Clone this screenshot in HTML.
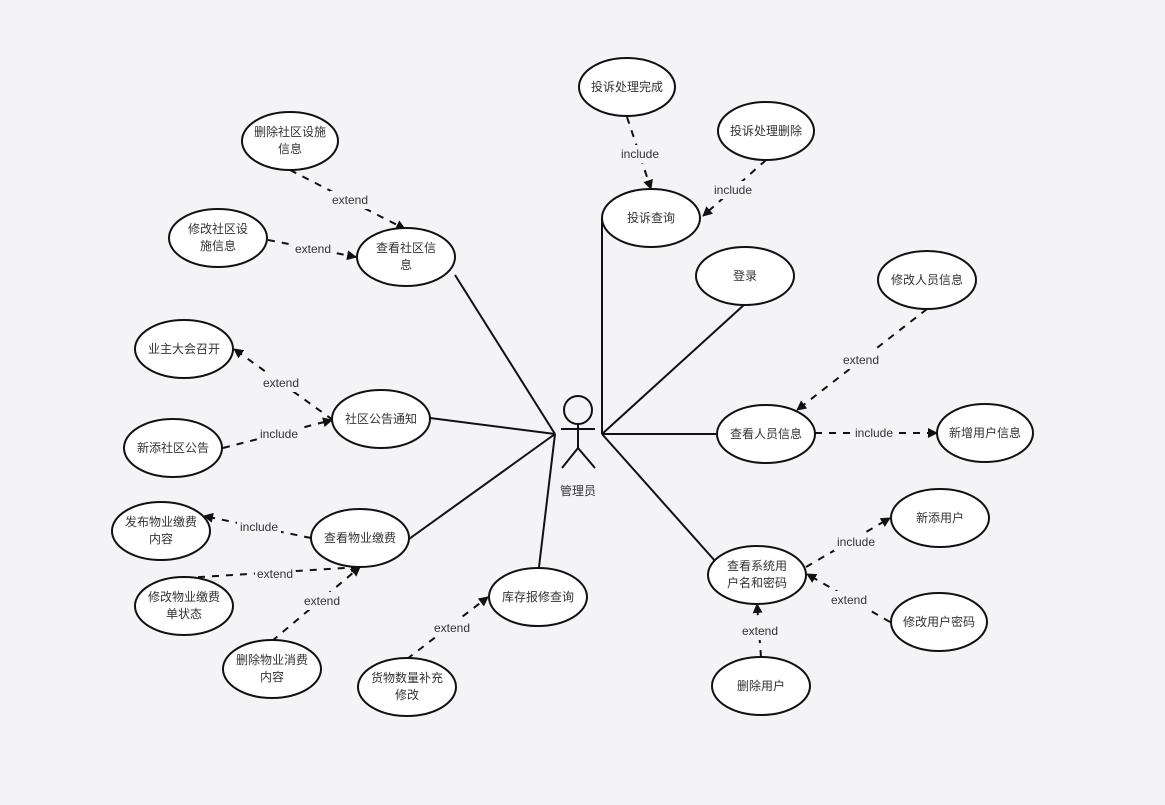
<!DOCTYPE html>
<html><head><meta charset="utf-8"><style>
html,body{margin:0;padding:0;background:#f4f4f6;}
svg{display:block;}
text{font-family:"Liberation Sans","Noto Sans CJK SC",sans-serif;font-size:12px;fill:#333;text-anchor:middle;}
.e{fill:#fff;stroke:#111;stroke-width:2;}
.s{stroke:#111;stroke-width:2;fill:none;}
.d{stroke:#111;stroke-width:2;fill:none;stroke-dasharray:7,7;marker-end:url(#a);}
.lb{fill:#f4f4f6;}
</style></head><body>
<svg width="1165" height="805" viewBox="0 0 1165 805">
<defs><marker id="a" viewBox="0 0 10 10" refX="9" refY="5" markerWidth="5" markerHeight="5" orient="auto"><path d="M0,0L10,5L0,10z" fill="#111"/></marker></defs>
<!-- solid lines -->
<g class="s">
<line x1="555" y1="434" x2="455" y2="275"/>
<line x1="555" y1="434" x2="430" y2="418"/>
<line x1="555" y1="434" x2="409" y2="539"/>
<line x1="555" y1="434" x2="539" y2="567"/>
<line x1="602" y1="434" x2="602" y2="218"/>
<line x1="602" y1="434" x2="745" y2="304"/>
<line x1="602" y1="434" x2="716" y2="434"/>
<line x1="602" y1="434" x2="716" y2="562"/>
</g>
<!-- dashed -->
<g>
<line class="d" x1="627" y1="117" x2="651" y2="189"/>
<line class="d" x1="766" y1="160" x2="703" y2="216"/>
<line class="d" x1="290" y1="170" x2="405" y2="229"/>
<line class="d" x1="268" y1="240" x2="356" y2="257"/>
<line class="d" x1="333" y1="420" x2="234" y2="349"/>
<line class="d" x1="223" y1="448" x2="332" y2="420"/>
<line class="d" x1="311" y1="538" x2="204" y2="516"/>
<line class="d" x1="184" y1="578" x2="360" y2="567"/>
<line class="d" x1="272" y1="641" x2="360" y2="567"/>
<line class="d" x1="407" y1="659" x2="488" y2="597"/>
<line class="d" x1="927" y1="309" x2="797" y2="410"/>
<line class="d" x1="815" y1="433" x2="937" y2="433"/>
<line class="d" x1="806" y1="567" x2="890" y2="518"/>
<line class="d" x1="890" y1="622" x2="807" y2="574"/>
<line class="d" x1="761" y1="657" x2="757" y2="604"/>
</g>
<!-- labels -->
<g>
<rect class="lb" x="618" y="145" width="44" height="18"/><text x="640" y="158">include</text>
<rect class="lb" x="711" y="181" width="44" height="18"/><text x="733" y="194">include</text>
<rect class="lb" x="330" y="191" width="40" height="18"/><text x="350" y="204">extend</text>
<rect class="lb" x="293" y="240" width="40" height="18"/><text x="313" y="253">extend</text>
<rect class="lb" x="261" y="374" width="40" height="18"/><text x="281" y="387">extend</text>
<rect class="lb" x="257" y="425" width="44" height="18"/><text x="279" y="438">include</text>
<rect class="lb" x="237" y="518" width="44" height="18"/><text x="259" y="531">include</text>
<rect class="lb" x="255" y="565" width="40" height="18"/><text x="275" y="578">extend</text>
<rect class="lb" x="302" y="592" width="40" height="18"/><text x="322" y="605">extend</text>
<rect class="lb" x="432" y="619" width="40" height="18"/><text x="452" y="632">extend</text>
<rect class="lb" x="841" y="351" width="40" height="18"/><text x="861" y="364">extend</text>
<rect class="lb" x="852" y="424" width="44" height="18"/><text x="874" y="437">include</text>
<rect class="lb" x="834" y="533" width="44" height="18"/><text x="856" y="546">include</text>
<rect class="lb" x="829" y="591" width="40" height="18"/><text x="849" y="604">extend</text>
<rect class="lb" x="740" y="622" width="40" height="18"/><text x="760" y="635">extend</text>
</g>
<!-- ellipses -->
<g>
<ellipse class="e" cx="627" cy="87" rx="48" ry="29"/><text x="627" y="91">投诉处理完成</text>
<ellipse class="e" cx="766" cy="131" rx="48" ry="29"/><text x="766" y="135">投诉处理删除</text>
<ellipse class="e" cx="651" cy="218" rx="49" ry="29"/><text x="651" y="222">投诉查询</text>
<ellipse class="e" cx="290" cy="141" rx="48" ry="29"/><text x="290" y="136">删除社区设施</text><text x="290" y="153">信息</text>
<ellipse class="e" cx="218" cy="238" rx="49" ry="29"/><text x="218" y="233">修改社区设</text><text x="218" y="250">施信息</text>
<ellipse class="e" cx="406" cy="257" rx="49" ry="29"/><text x="406" y="252">查看社区信</text><text x="406" y="269">息</text>
<ellipse class="e" cx="745" cy="276" rx="49" ry="29"/><text x="745" y="280">登录</text>
<ellipse class="e" cx="927" cy="280" rx="49" ry="29"/><text x="927" y="284">修改人员信息</text>
<ellipse class="e" cx="184" cy="349" rx="49" ry="29"/><text x="184" y="353">业主大会召开</text>
<ellipse class="e" cx="381" cy="419" rx="49" ry="29"/><text x="381" y="423">社区公告通知</text>
<ellipse class="e" cx="766" cy="434" rx="49" ry="29"/><text x="766" y="438">查看人员信息</text>
<ellipse class="e" cx="985" cy="433" rx="48" ry="29"/><text x="985" y="437">新增用户信息</text>
<ellipse class="e" cx="173" cy="448" rx="49" ry="29"/><text x="173" y="452">新添社区公告</text>
<ellipse class="e" cx="161" cy="531" rx="49" ry="29"/><text x="161" y="526">发布物业缴费</text><text x="161" y="543">内容</text>
<ellipse class="e" cx="360" cy="538" rx="49" ry="29"/><text x="360" y="542">查看物业缴费</text>
<ellipse class="e" cx="940" cy="518" rx="49" ry="29"/><text x="940" y="522">新添用户</text>
<ellipse class="e" cx="538" cy="597" rx="49" ry="29"/><text x="538" y="601">库存报修查询</text>
<ellipse class="e" cx="757" cy="575" rx="49" ry="29"/><text x="757" y="570">查看系统用</text><text x="757" y="587">户名和密码</text>
<ellipse class="e" cx="184" cy="606" rx="49" ry="29"/><text x="184" y="601">修改物业缴费</text><text x="184" y="618">单状态</text>
<ellipse class="e" cx="939" cy="622" rx="48" ry="29"/><text x="939" y="626">修改用户密码</text>
<ellipse class="e" cx="272" cy="669" rx="49" ry="29"/><text x="272" y="664">删除物业消费</text><text x="272" y="681">内容</text>
<ellipse class="e" cx="407" cy="687" rx="49" ry="29"/><text x="407" y="682">货物数量补充</text><text x="407" y="699">修改</text>
<ellipse class="e" cx="761" cy="686" rx="49" ry="29"/><text x="761" y="690">删除用户</text>
</g>
<!-- actor -->
<g class="s">
<circle cx="578" cy="410" r="14"/>
<line x1="578" y1="424" x2="578" y2="448"/>
<line x1="561" y1="429" x2="595" y2="429"/>
<line x1="578" y1="448" x2="562" y2="468"/>
<line x1="578" y1="448" x2="595" y2="468"/>
</g>
<text x="578" y="495">管理员</text>
</svg>
</body></html>
